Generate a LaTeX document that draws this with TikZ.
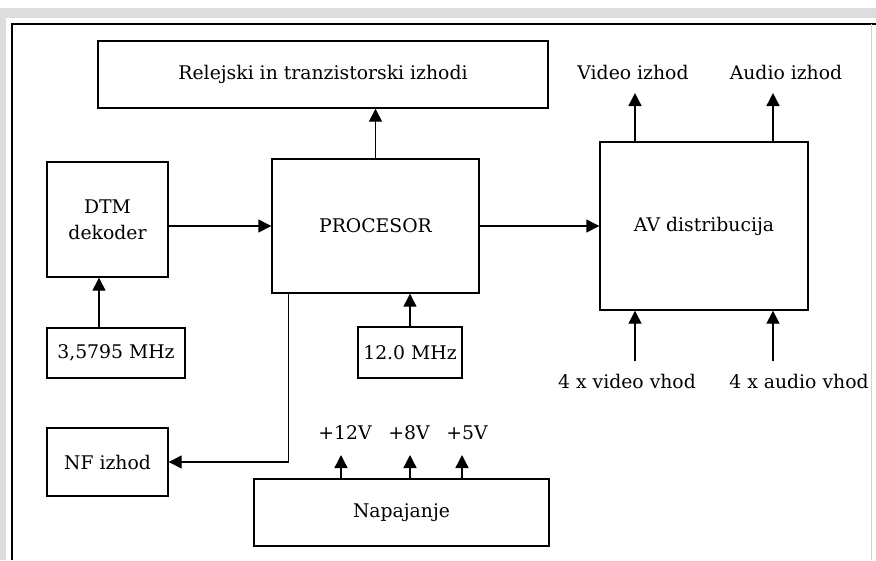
\documentclass[tikz,border=0pt]{standalone}
\usepackage{fontspec}
\setmainfont{DejaVu Serif}
\usetikzlibrary{arrows.meta, positioning}
\definecolor{bandgray}{RGB}{220,221,223}

\begin{document}
\begin{tikzpicture}[
x=1pt, y=-1pt,
box/.style={rectangle, draw, line width=1.4pt, inner sep=0pt,
align=center, font=\fontsize{18.8}{26}\selectfont},
lbl/.style={inner sep=0pt, font=\fontsize{18.8}{26}\selectfont},
arr/.style={-{Triangle[length=13pt, width=13pt]}, line width=1.4pt}
]
\useasboundingbox (0,0) rectangle (876,560);
% frame
\fill[bandgray] (0,8) rectangle (876,18);
\fill[bandgray] (0,8) rectangle (6,560);
\draw[line width=1.4pt] (12,560) -- (12,24) -- (876,24);
\draw[gray!35, line width=1pt] (871,24) -- (871,560);

% blocks
\node[box, minimum width=450pt, minimum height=67pt] (rel) at (323,74.5) {Relejski in tranzistorski izhodi};
\node[box, minimum width=121pt, minimum height=115pt] (dtm) at (107.5,219.5) {DTM\\dekoder};
\node[box, minimum width=138pt, minimum height=50pt] (osc1) at (116,353) {3,5795 MHz};
\node[box, minimum width=207pt, minimum height=134pt] (proc) at (375.5,226) {PROCESOR};
\node[box, minimum width=104pt, minimum height=51pt] (osc2) at (410,352.5) {12.0 MHz};
\node[box, minimum width=121pt, minimum height=68pt] (nf) at (107.5,462) {NF izhod};
\node[box, minimum width=295pt, minimum height=67pt] (nap) at (401.5,512.5) {Napajanje};
\node[box, minimum width=208pt, minimum height=168pt] (av) at (704,226) {AV distribucija};

% free labels
\node[lbl] (vout) at (633,72) {Video izhod};
\node[lbl] (aout) at (786,72) {Audio izhod};
\node[lbl] (vin) at (627,381) {4 x video vhod};
\node[lbl] (ain) at (799,381) {4 x audio vhod};
\node[lbl] (u12) at (345,433) {+12V};
\node[lbl] (u8) at (409,433) {+8V};
\node[lbl] (u5) at (467,433) {+5V};

\coordinate (vtip) at (635,93);
\coordinate (atip) at (773,93);
\coordinate (vsrc) at (635,361);
\coordinate (asrc) at (773,361);
\coordinate (t12) at (341,455);
\coordinate (t8) at (410,455);
\coordinate (t5) at (462,455);

% connections
\draw[arr] (dtm.east |- proc.west) -- (proc.west);
\draw[arr] (proc.east) -- (av.west);
\draw[arr] ([xshift=-17pt]osc1.north) -- ([xshift=-8.5pt]dtm.south);
\draw[arr] (osc2.north) -- (osc2.north |- proc.south);
\draw[arr] (proc.north) -- (rel.south -| proc.north);
\draw[arr] ([xshift=17pt]proc.south west) |- (nf.east);
\draw[arr] (av.north -| vtip) -- (vtip);
\draw[arr] (av.north -| atip) -- (atip);
\draw[arr] (vsrc) -- (av.south -| vsrc);
\draw[arr] (asrc) -- (av.south -| asrc);
\foreach \t in {t12, t8, t5}
\draw[arr] (nap.north -| \t) -- (\t);
\end{tikzpicture}
\end{document}
